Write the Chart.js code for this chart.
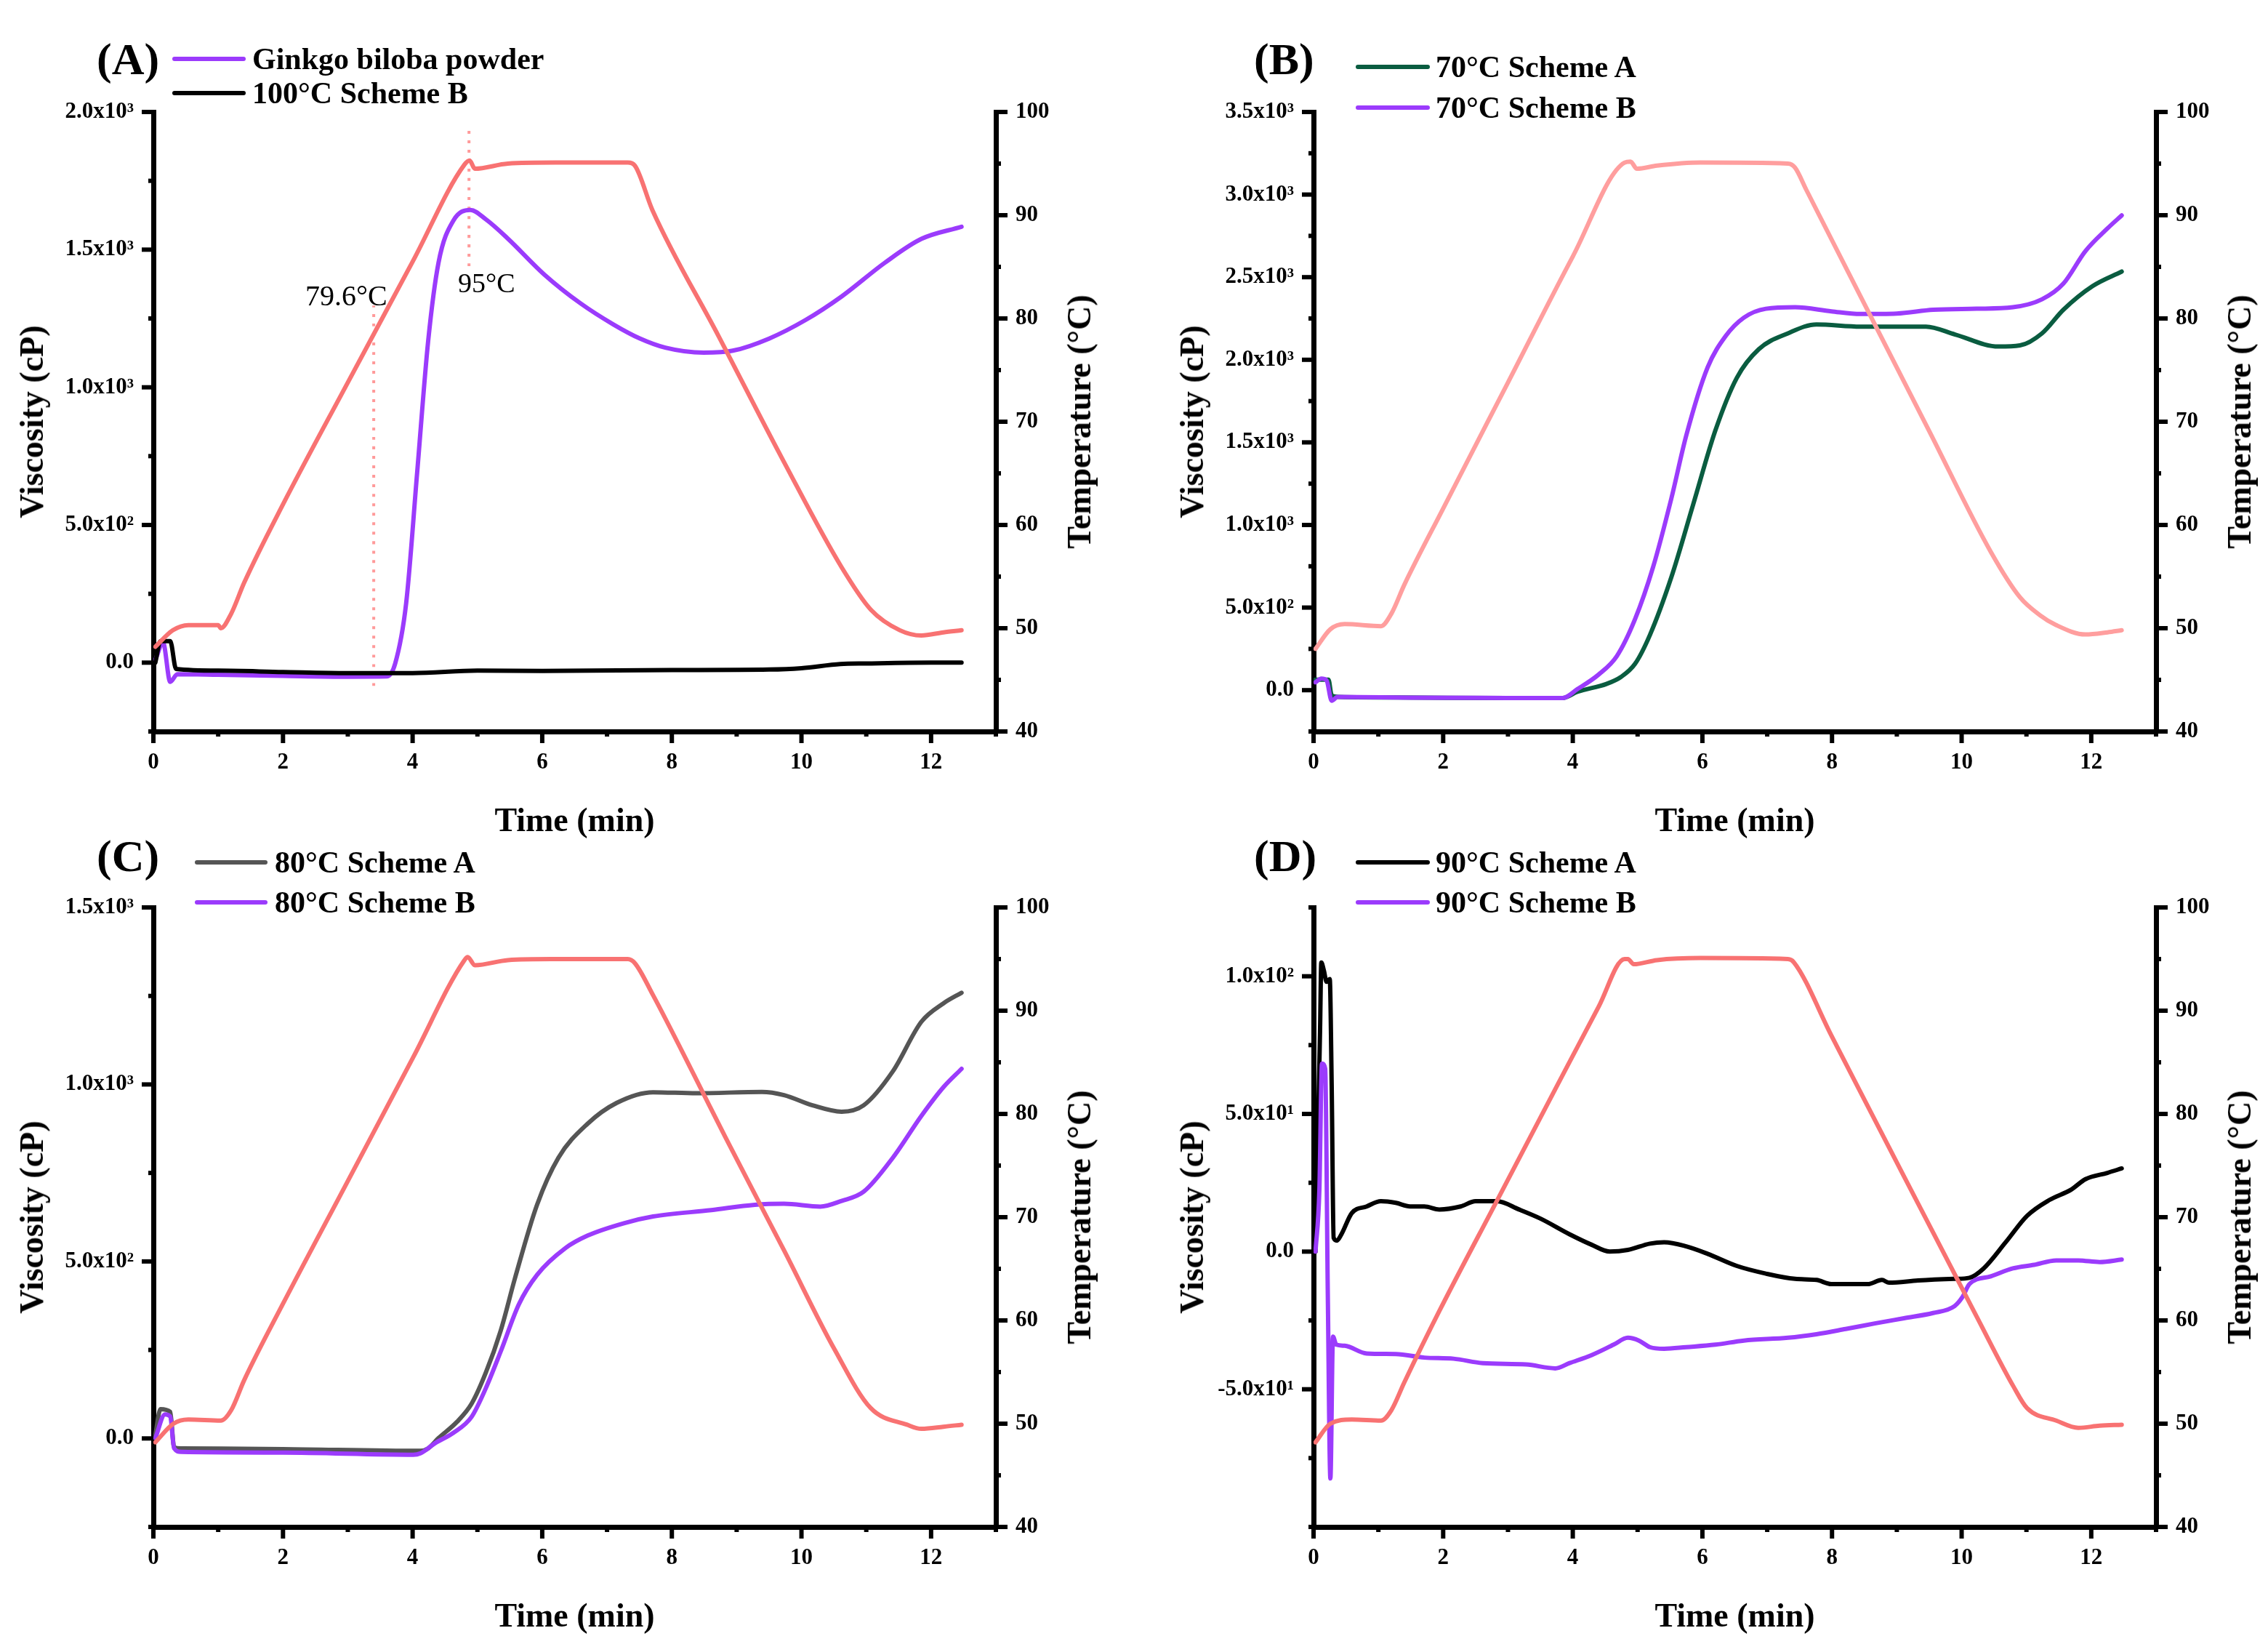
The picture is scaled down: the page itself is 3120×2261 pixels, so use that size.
<!DOCTYPE html>
<html>
<head>
<meta charset="utf-8">
<title>Viscosity and temperature profiles</title>
<script src="https://cdn.jsdelivr.net/npm/chart.js@4.4.1/dist/chart.umd.min.js"></script>
<style>
    html, body { margin: 0; padding: 0; background: #fff; }
    #page {
        position: relative;
        width: 3120px;
        height: 2261px;
        background: #fff;
        overflow: hidden;
        font-family: 'Liberation Serif', 'Times New Roman', serif;
        color: #000;
    }
    #page canvas { position: absolute; }
    .txt { position: absolute; white-space: nowrap; line-height: 1; }
    .bold { font-weight: bold; }
    .key { position: absolute; height: 6px; border-radius: 3px; }
</style>
</head>
<body>
<div id="page"></div>
<script>
// ---- data (time in min, viscosity in cP, temperature in °C) ----

// Panel A
const timeTempA = [0.03, 0.3, 0.54, 1.0, 1.04, 1.2, 1.4, 2.0, 3.0, 4.0, 4.8, 4.88, 4.96, 5.47, 6.2, 7.32, 7.43, 7.7, 8.72, 9.73, 10.62, 11.07, 11.52, 11.85, 12.19, 12.47];
const tempA = [48.2, 49.8, 50.3, 50.3, 50.0, 51.4, 54.4, 62.0, 73.8, 85.5, 94.9, 95.3, 94.5, 95.0, 95.1, 95.1, 94.8, 90.5, 78.3, 66.1, 55.9, 51.8, 49.8, 49.3, 49.6, 49.8];
const timeGinkgo = [0.03, 0.15, 0.26, 0.37, 1.0, 2.0, 3.0, 3.6, 3.73, 3.9, 4.07, 4.24, 4.4, 4.63, 4.89, 5.13, 5.47, 6.03, 6.59, 7.1, 7.5, 7.9, 8.49, 8.94, 9.5, 10.06, 10.62, 11.29, 11.85, 12.47];
const viscGinkgo = [10, 72, -70, -42, -44, -48, -51, -50, -4, 215, 690, 1168, 1453, 1606, 1644, 1610, 1540, 1410, 1305, 1228, 1178, 1144, 1126, 1133, 1177, 1244, 1330, 1453, 1539, 1583];
const time100B = [0.03, 0.11, 0.26, 0.35, 1.0, 2.0, 3.0, 4.0, 5.0, 6.0, 8.0, 9.5, 10.0, 10.6, 11.0, 12.0, 12.47];
const visc100B = [0, 78, 78, -23, -29, -34, -38, -38, -29, -30, -27, -25, -20, -5, -3, 0, 0];
const markTime1 = [3.4, 3.4];
const markVisc1 = [-84, 1297];
const markTime2 = [4.87, 4.87];
const markVisc2 = [1440, 1937];

// Panel B
const timeTempB = [0.03, 0.26, 0.48, 1.04, 1.2, 1.4, 2.0, 3.0, 4.0, 4.8, 4.89, 4.99, 5.3, 5.97, 7.32, 7.43, 7.6, 8.5, 9.5, 10.45, 10.9, 11.2, 11.46, 11.91, 12.25, 12.47];
const tempB = [48.0, 49.9, 50.4, 50.2, 51.4, 54.2, 61.6, 73.8, 86.0, 95.1, 95.2, 94.5, 94.8, 95.1, 95.0, 94.6, 92.5, 81.4, 69.1, 57.4, 53.0, 51.3, 50.3, 49.4, 49.6, 49.8];
const time70A = [0.03, 0.23, 0.28, 0.4, 1.71, 3.0, 3.84, 4.07, 4.52, 4.74, 4.96, 5.19, 5.52, 5.86, 6.2, 6.53, 6.87, 7.32, 7.76, 8.44, 9.45, 9.9, 10.57, 10.9, 11.24, 11.57, 12.02, 12.47];
const visc70A = [64, 64, -32, -41, -45, -48, -48, -10, 38, 79, 159, 334, 683, 1127, 1572, 1890, 2064, 2160, 2214, 2201, 2201, 2153, 2080, 2087, 2160, 2303, 2446, 2534];
const time70B = [0.03, 0.12, 0.2, 0.28, 0.37, 1.5, 3.0, 3.84, 4.07, 4.4, 4.68, 4.96, 5.24, 5.52, 5.75, 6.08, 6.36, 6.64, 6.98, 7.43, 7.99, 8.44, 9.0, 9.56, 10.23, 10.79, 11.24, 11.57, 11.91, 12.25, 12.47];
const visc70B = [48, 70, 60, -64, -41, -45, -47, -48, 6, 95, 206, 429, 746, 1159, 1540, 1953, 2144, 2255, 2309, 2318, 2293, 2277, 2280, 2303, 2309, 2318, 2366, 2461, 2658, 2795, 2874];

// Panel C
const timeTempC = [0.03, 0.31, 0.54, 1.04, 1.2, 1.4, 1.99, 3.0, 4.01, 4.8, 4.85, 4.96, 5.47, 6.14, 7.32, 7.43, 7.71, 8.38, 8.83, 9.73, 10.51, 11.07, 11.63, 11.85, 12.19, 12.47];
const tempC = [48.2, 50.0, 50.4, 50.3, 51.3, 54.2, 61.5, 73.5, 85.5, 94.9, 95.2, 94.4, 94.9, 95.0, 95.0, 94.6, 91.5, 83.3, 77.7, 66.8, 57.2, 51.5, 49.9, 49.5, 49.7, 49.9];
const time80A = [0.03, 0.11, 0.26, 0.32, 0.43, 2.0, 4.12, 4.24, 4.4, 4.68, 4.91, 5.13, 5.36, 5.58, 5.92, 6.25, 6.7, 7.15, 7.71, 8.38, 9.39, 9.73, 10.17, 10.62, 10.96, 11.41, 11.85, 12.19, 12.47];
const visc80A = [9, 83, 75, -25, -28, -30, -35, -28, 1, 46, 98, 186, 305, 453, 660, 793, 889, 948, 978, 975, 979, 970, 941, 923, 941, 1037, 1177, 1229, 1259];
const time80B = [0.03, 0.18, 0.26, 0.32, 0.43, 2.0, 4.01, 4.12, 4.35, 4.63, 4.91, 5.13, 5.36, 5.64, 5.92, 6.36, 6.7, 7.26, 7.71, 8.61, 9.28, 9.73, 10.29, 10.62, 10.96, 11.41, 11.85, 12.19, 12.47];
const visc80B = [1, 68, 62, -28, -38, -40, -46, -42, -13, 16, 61, 142, 246, 379, 462, 538, 573, 608, 627, 645, 660, 663, 655, 671, 697, 793, 911, 992, 1044];

// Panel D
const timeTempD = [0.03, 0.26, 0.59, 1.04, 1.2, 1.4, 1.94, 2.83, 3.73, 4.4, 4.8, 4.85, 4.94, 5.3, 5.97, 7.32, 7.41, 7.99, 8.44, 9.33, 10.23, 10.8, 11.01, 11.46, 11.8, 12.13, 12.47];
const tempD = [48.2, 50.0, 50.4, 50.3, 51.3, 54.0, 60.9, 71.6, 82.4, 90.4, 95.0, 95.0, 94.5, 94.9, 95.1, 95.0, 94.7, 87.6, 82.1, 71.3, 60.4, 53.6, 51.5, 50.3, 49.6, 49.8, 49.9];
const time90A = [0.03, 0.1, 0.12, 0.16, 0.2, 0.25, 0.28, 0.31, 0.36, 0.43, 0.59, 0.82, 1.04, 1.27, 1.49, 1.71, 1.94, 2.27, 2.5, 2.83, 3.17, 3.5, 3.95, 4.29, 4.57, 4.85, 5.19, 5.41, 5.75, 6.08, 6.53, 6.98, 7.43, 7.76, 7.99, 8.55, 8.77, 8.88, 9.33, 9.89, 10.12, 10.34, 10.68, 11.01, 11.35, 11.69, 11.91, 12.25, 12.47];
const visc90A = [0, 80, 105, 102, 98, 99, 60, 5, 4, 6.3, 14, 16.4, 18.3, 17.7, 16.4, 16.4, 15.3, 16.4, 18.3, 18.3, 15.3, 12.0, 6.3, 2.5, 0, 0.6, 2.9, 3.4, 1.9, -0.8, -5.2, -8.0, -9.9, -10.3, -11.8, -11.8, -10.3, -11.3, -10.5, -9.9, -9.5, -6.1, 3.4, 13.0, 18.7, 22.5, 26.3, 28.6, 30.2];
const time90B = [0.03, 0.09, 0.13, 0.18, 0.22, 0.26, 0.3, 0.35, 0.48, 0.82, 1.27, 1.71, 2.16, 2.61, 3.28, 3.73, 3.95, 4.29, 4.63, 4.85, 5.02, 5.19, 5.41, 5.75, 6.2, 6.64, 7.32, 7.76, 8.21, 8.66, 9.11, 9.56, 9.89, 10.01, 10.12, 10.45, 10.79, 11.12, 11.46, 11.8, 12.13, 12.47];
const visc90B = [0, 22.5, 68.3, 66.4, -15.6, -82.4, -30.9, -33.8, -34.2, -37.0, -37.2, -38.5, -38.9, -40.5, -41.0, -42.4, -40.5, -37.6, -33.8, -31.3, -32.3, -34.7, -35.3, -34.7, -33.8, -32.3, -31.3, -30.0, -28.1, -26.1, -24.2, -22.3, -19.8, -16.6, -11.8, -9.0, -6.1, -4.8, -3.2, -3.2, -3.8, -2.9];

// axis ranges
const timeRange = [0, 13];
const tempRange = [40, 100];
const viscRanges = { A: [-250, 2000, 250], B: [-250, 3500, 250], C: [-250, 1500, 250], D: [-100, 125, 25] };

// ---- styles ----
const SERIF = "'Liberation Serif', 'Times New Roman', serif";
const RED = '#F87272';
const PINK = '#FF9E9E';
const PURPLE = '#9B3BFC';
const GREEN = '#0A5C40';
const GRAY = '#555555';
const BLACK = '#000000';

const page = document.getElementById('page');

function pts(xs, ys) {
    return xs.map((x, i) => ({ x: x, y: ys[i] }));
}

function series(label, xs, ys, color, axis, order) {
    return {
        label: label,
        data: pts(xs, ys),
        borderColor: color,
        backgroundColor: color,
        yAxisID: axis,
        order: order
    };
}

// 2.0x10³ style tick labels
const SUP = { '0': '\u2070', '1': '\u00B9', '2': '\u00B2', '3': '\u00B3', '-': '\u207B' };
function sciLabel(v) {
    if (Math.abs(v) < 1e-9) return '0.0';
    const e = Math.floor(Math.log10(Math.abs(v)) + 1e-9);
    const m = v / Math.pow(10, e);
    return m.toFixed(1) + 'x10' + String(e).split('').map(c => SUP[c]).join('');
}

// major / minor tick marks drawn outward from each axis line
const tickMarks = {
    id: 'tickMarks',
    afterDraw(chart) {
        const ctx = chart.ctx;
        ctx.save();
        ctx.strokeStyle = '#000';
        ctx.lineWidth = 6;
        ctx.lineCap = 'butt';
        Object.values(chart.scales).forEach(scale => {
            scale.ticks.forEach(t => {
                const len = t.label !== '' ? 16 : 7;
                const p = scale.getPixelForValue(t.value);
                ctx.beginPath();
                if (scale.axis === 'x') {
                    ctx.moveTo(p, scale.top);
                    ctx.lineTo(p, scale.top + len);
                } else if (scale.position === 'left') {
                    ctx.moveTo(scale.right, p);
                    ctx.lineTo(scale.right - len, p);
                } else {
                    ctx.moveTo(scale.left, p);
                    ctx.lineTo(scale.left + len, p);
                }
                ctx.stroke();
            });
        });
        ctx.restore();
    }
};

const tickFont = { family: SERIF, size: 31, weight: 'bold' };

function makePanel(p) {
    const canvas = document.createElement('canvas');
    canvas.width = p.w;
    canvas.height = p.h;
    canvas.style.left = p.x + 'px';
    canvas.style.top = p.y + 'px';
    canvas.style.width = p.w + 'px';
    canvas.style.height = p.h + 'px';
    page.appendChild(canvas);

    const vr = viscRanges[p.id];
    const axisLine = { display: true, color: '#000', width: 7 };
    const noGrid = { display: true, drawOnChartArea: false, drawTicks: false };

    new Chart(canvas.getContext('2d'), {
        type: 'line',
        data: { datasets: p.datasets },
        plugins: [tickMarks],
        options: {
            responsive: false,
            animation: false,
            devicePixelRatio: 1,
            layout: { padding: { top: p.area.t, left: 0, right: 0, bottom: 0 } },
            plugins: { legend: { display: false }, tooltip: { enabled: false } },
            elements: {
                point: { radius: 0 },
                line: { borderWidth: 6, cubicInterpolationMode: 'monotone', borderCapStyle: 'round', borderJoinStyle: 'round' }
            },
            scales: {
                x: {
                    type: 'linear',
                    min: timeRange[0],
                    max: timeRange[1],
                    afterFit: s => { s.height = p.h - p.area.b; },
                    border: axisLine,
                    grid: noGrid,
                    ticks: {
                        stepSize: 1,
                        autoSkip: false,
                        maxRotation: 0,
                        padding: 24,
                        color: '#000',
                        font: tickFont,
                        callback: v => (Math.round(v) % 2 === 0 && v <= 12) ? String(Math.round(v)) : ''
                    }
                },
                y: {
                    type: 'linear',
                    position: 'left',
                    min: vr[0],
                    max: vr[1],
                    afterFit: s => { s.width = p.area.l; },
                    border: axisLine,
                    grid: noGrid,
                    ticks: {
                        stepSize: vr[2],
                        autoSkip: false,
                        padding: 27,
                        color: '#000',
                        font: tickFont,
                        callback: v => {
                            const k = Math.round(v / vr[2]);
                            return (k % 2 === 0) && v >= vr[0] + vr[2] * 0.5 ? sciLabel(k * vr[2]) : '';
                        }
                    }
                },
                yT: {
                    type: 'linear',
                    position: 'right',
                    min: tempRange[0],
                    max: tempRange[1],
                    afterFit: s => { s.width = p.w - p.area.r; },
                    border: axisLine,
                    grid: noGrid,
                    ticks: {
                        stepSize: 5,
                        autoSkip: false,
                        padding: 27,
                        color: '#000',
                        font: tickFont,
                        callback: v => (Math.round(v) % 10 === 0) ? String(Math.round(v)) : ''
                    }
                }
            }
        }
    });
}

// real text placed over the canvases
function addText(text, x, y, size, opts) {
    const d = document.createElement('div');
    d.className = 'txt' + (opts.bold ? ' bold' : '');
    d.textContent = text;
    d.style.fontSize = size + 'px';
    d.style.left = x + 'px';
    d.style.top = y + 'px';
    if (opts.rotate) {
        d.style.transform = 'translate(-50%, -50%) rotate(-90deg)';
    } else if (opts.center) {
        d.style.transform = 'translate(-50%, -50%)';
    } else {
        d.style.transform = 'translateY(-50%)';
    }
    page.appendChild(d);
}

function addKey(color, x1, x2, y) {
    const k = document.createElement('div');
    k.className = 'key';
    k.style.background = color;
    k.style.left = x1 + 'px';
    k.style.width = (x2 - x1) + 'px';
    k.style.top = (y - 3) + 'px';
    page.appendChild(k);
}

const panels = [
    {
        id: 'A', x: 0, y: 0, w: 1560, h: 1130,
        area: { l: 211, r: 1370, t: 154, b: 1006 },
        datasets: [
            series('Ginkgo biloba powder', timeGinkgo, viscGinkgo, PURPLE, 'y', 2),
            series('100°C Scheme B', time100B, visc100B, BLACK, 'y', 1),
            series('Temperature', timeTempA, tempA, RED, 'yT', 0),
            Object.assign(series('79.6°C', markTime1, markVisc1, '#FF9A9A', 'y', 3), { borderWidth: 4, borderDash: [4, 9], borderCapStyle: 'butt' }),
            Object.assign(series('95°C', markTime2, markVisc2, '#FF9A9A', 'y', 3), { borderWidth: 4, borderDash: [4, 9], borderCapStyle: 'butt' })
        ],
        legend: [['Ginkgo biloba powder', PURPLE], ['100°C Scheme B', BLACK]],
        key: { x1: 237, x2: 338, tx: 347, y1: 81, y2: 128 },
        letter: { x: 133, y: 81 }
    },
    {
        id: 'B', x: 1560, y: 0, w: 1560, h: 1130,
        area: { l: 247, r: 1406, t: 154, b: 1006 },
        datasets: [
            series('70°C Scheme A', time70A, visc70A, GREEN, 'y', 2),
            series('70°C Scheme B', time70B, visc70B, PURPLE, 'y', 1),
            series('Temperature', timeTempB, tempB, PINK, 'yT', 0)
        ],
        legend: [['70°C Scheme A', GREEN], ['70°C Scheme B', PURPLE]],
        key: { x1: 1865, x2: 1967, tx: 1975, y1: 92, y2: 148 },
        letter: { x: 1725, y: 81 }
    },
    {
        id: 'C', x: 0, y: 1130, w: 1560, h: 1131,
        area: { l: 211, r: 1370, t: 118, b: 970 },
        datasets: [
            series('80°C Scheme A', time80A, visc80A, GRAY, 'y', 2),
            series('80°C Scheme B', time80B, visc80B, PURPLE, 'y', 1),
            series('Temperature', timeTempC, tempC, RED, 'yT', 0)
        ],
        legend: [['80°C Scheme A', GRAY], ['80°C Scheme B', PURPLE]],
        key: { x1: 268, x2: 368, tx: 378, y1: 1186, y2: 1241 },
        letter: { x: 133, y: 1177 }
    },
    {
        id: 'D', x: 1560, y: 1130, w: 1560, h: 1131,
        area: { l: 247, r: 1406, t: 118, b: 970 },
        datasets: [
            series('90°C Scheme A', time90A, visc90A, BLACK, 'y', 2),
            series('90°C Scheme B', time90B, visc90B, PURPLE, 'y', 1),
            series('Temperature', timeTempD, tempD, RED, 'yT', 0)
        ],
        legend: [['90°C Scheme A', BLACK], ['90°C Scheme B', PURPLE]],
        key: { x1: 1865, x2: 1967, tx: 1975, y1: 1186, y2: 1241 },
        letter: { x: 1725, y: 1177 }
    }
];

panels.forEach(p => {
    makePanel(p);

    // panel letter and legend
    addText('(' + p.id + ')', p.letter.x, p.letter.y, 62, { bold: true });
    addKey(p.legend[0][1], p.key.x1, p.key.x2, p.key.y1);
    addText(p.legend[0][0], p.key.tx, p.key.y1, 42, { bold: true });
    addKey(p.legend[1][1], p.key.x1, p.key.x2, p.key.y2);
    addText(p.legend[1][0], p.key.tx, p.key.y2, 42, { bold: true });

    // axis titles
    const left = p.x + p.area.l;
    const right = p.x + p.area.r;
    const midY = p.y + (p.area.t + p.area.b) / 2;
    addText('Viscosity (cP)', left - 167, midY, 46, { bold: true, rotate: true });
    addText('Temperature (°C)', right + 115, midY, 46, { bold: true, rotate: true });
    addText('Time (min)', (left + right) / 2, p.y + p.area.b + 122, 46, { bold: true, center: true });
});

// temperature marks in panel A
addText('79.6°C', 420, 407, 40, {});
addText('95°C', 630, 389, 38, {});
</script>
</body>
</html>
